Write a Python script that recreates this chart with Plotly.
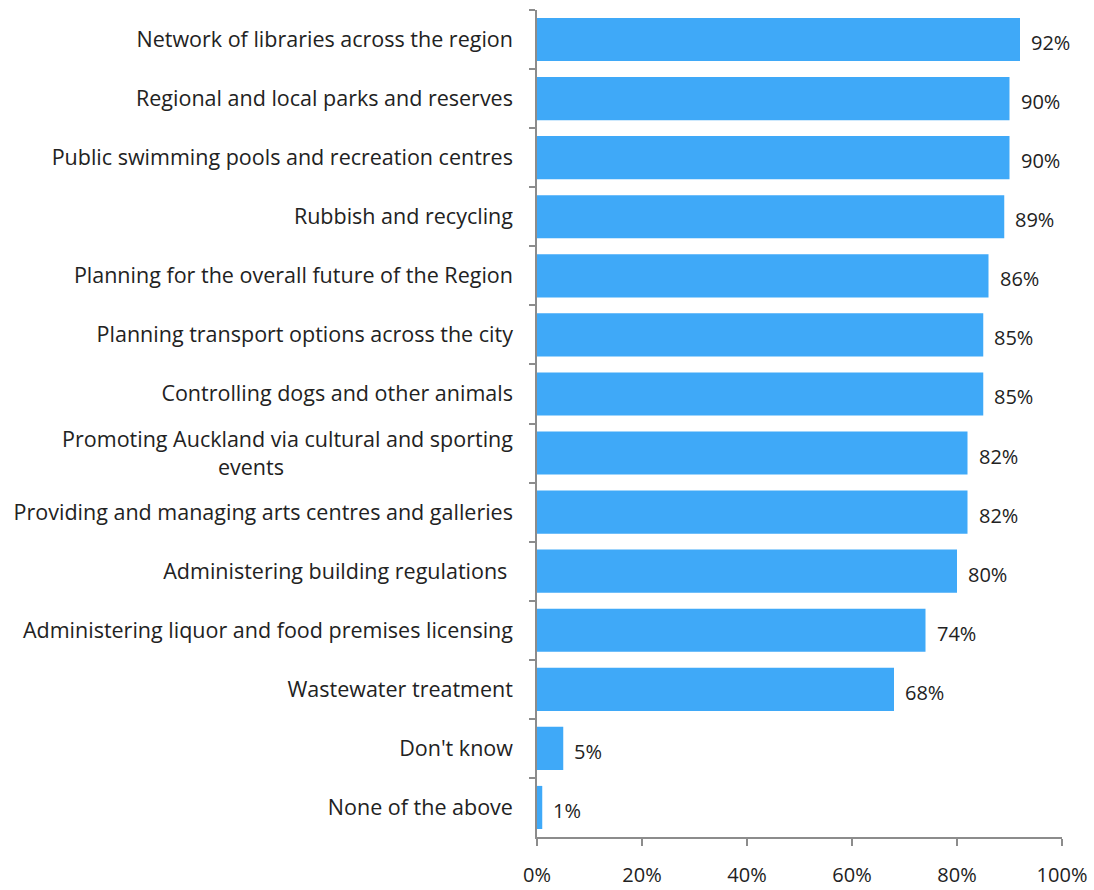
import plotly.graph_objects as go

NBSP = "\u00a0"

categories = [
    "Network of libraries across the region",
    "Regional and local parks and reserves",
    "Public swimming pools and recreation centres",
    "Rubbish and recycling",
    "Planning for the overall future of the Region",
    "Planning transport options across the city",
    "Controlling dogs and other animals",
    "Promoting Auckland via cultural and sporting<br>events" + NBSP * 41,
    "Providing and managing arts centres and galleries",
    "Administering building regulations" + NBSP,
    "Administering liquor and food premises licensing",
    "Wastewater treatment",
    "Don't know",
    "None of the above",
]
values = [92, 90, 90, 89, 86, 85, 85, 82, 82, 80, 74, 68, 5, 1]
tick_vals = [0, 20, 40, 60, 80, 100]
tick_text = ["0%", "20%", "40%", "60%", "80%", "100%"]

FONT = "Open Sans"
FONT_SIZE = 21.5
BAR_COLOR = "#3FA9F8"
TEXT_COLOR = "#222222"
AXIS_COLOR = "#8c8c8c"

fig = go.Figure(
    go.Bar(
        y=categories,
        x=values,
        orientation="h",
        marker=dict(color=BAR_COLOR, line=dict(width=0)),
        hoverinfo="skip",
    )
)

# value labels just past the end of each bar
for cat, v in zip(categories, values):
    fig.add_annotation(
        x=v, y=cat, text=f"{v}%", showarrow=False,
        xanchor="left", xshift=9, yshift=-3,
        font=dict(family=FONT, size=20, color=TEXT_COLOR),
    )

fig.update_layout(
    width=1094, height=890,
    margin=dict(l=537, r=32, t=10, b=53),
    plot_bgcolor="white", paper_bgcolor="white",
    bargap=0.27,
    showlegend=False,
    font=dict(family=FONT, size=FONT_SIZE, color=TEXT_COLOR),
)
fig.update_xaxes(
    range=[0, 100],
    tickvals=tick_vals, ticktext=tick_text,
    showgrid=False, zeroline=False,
    showline=True, linecolor=AXIS_COLOR, linewidth=1.5,
    ticks="outside", ticklen=7, tickcolor=AXIS_COLOR, tickwidth=1.5,
    ticklabelstandoff=12,
    tickfont=dict(family=FONT, size=20, color=TEXT_COLOR),
    automargin=False,
    fixedrange=True,
)
fig.update_yaxes(
    autorange="reversed",
    type="category",
    showgrid=False, zeroline=False,
    showline=True, linecolor=AXIS_COLOR, linewidth=1.5,
    ticks="outside", ticklen=6, tickcolor=AXIS_COLOR, tickwidth=1.5,
    tickson="boundaries",
    ticklabelstandoff=18,
    tickfont=dict(family=FONT, size=FONT_SIZE, color=TEXT_COLOR),
    automargin=False,
    fixedrange=True,
)

fig.write_html("out.html")
